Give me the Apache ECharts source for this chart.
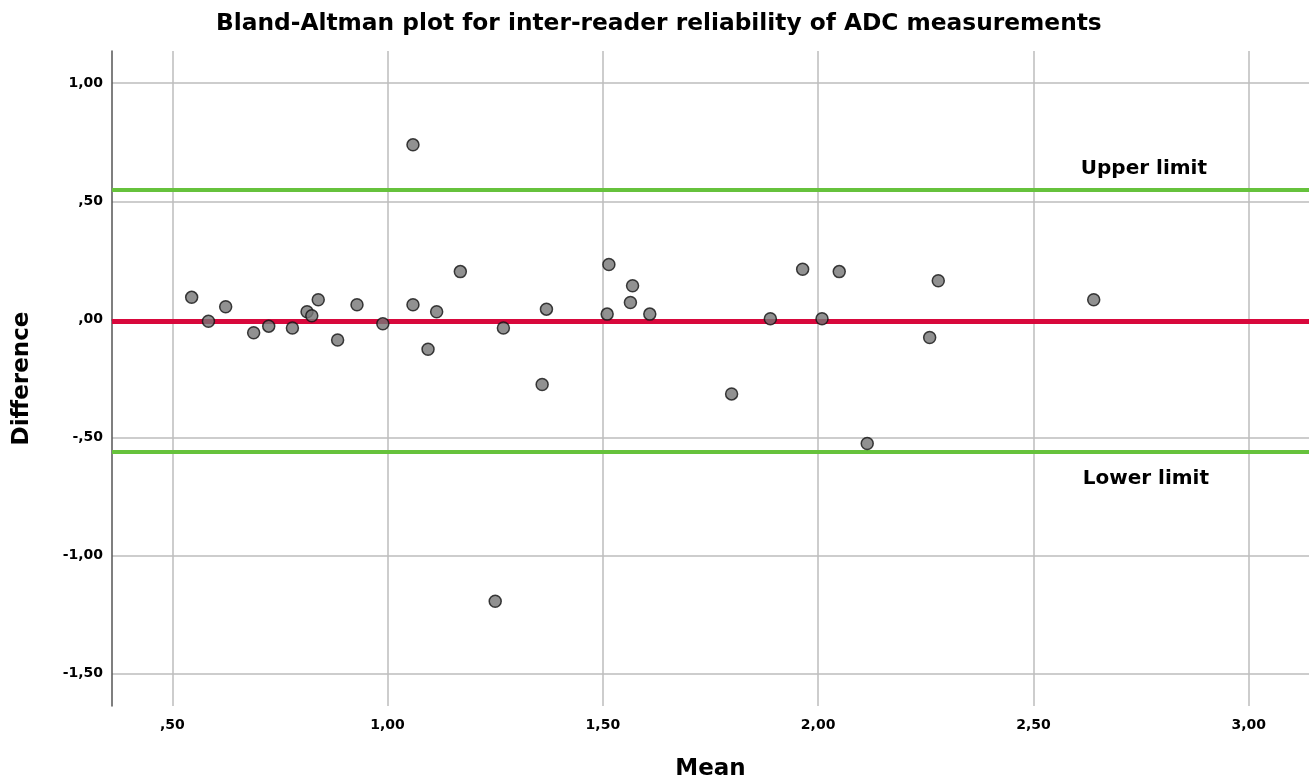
<!DOCTYPE html>
<html>
<head>
<meta charset="utf-8">
<script src="https://cdn.jsdelivr.net/npm/echarts@6/dist/echarts.min.js"></script>
<style>
  html, body { margin: 0; padding: 0; background: #fff; }
  #chart { width: 1309px; height: 779px; }
</style>
</head>
<body>
<div id="chart"></div>
<script>
// mean of the two readers (x) and their difference (y)
var meanValues = [0.545, 0.584, 0.624, 0.689, 0.724, 0.779, 0.813, 0.824, 0.839, 0.884,
                  0.929, 0.989, 1.059, 1.059, 1.094, 1.114, 1.169, 1.269, 1.369, 1.359,
                  1.250, 1.514, 1.510, 1.569, 1.564, 1.609, 1.799, 1.889, 1.964, 2.009,
                  2.049, 2.114, 2.259, 2.279, 2.640];
var diffValues = [0.093, -0.008, 0.053, -0.057, -0.029, -0.037, 0.032, 0.015, 0.083, -0.088,
                  0.062, -0.019, 0.739, 0.062, -0.127, 0.032, 0.202, -0.037, 0.043, -0.276,
                  -1.194, 0.232, 0.022, 0.142, 0.071, 0.022, -0.316, 0.002, 0.212, 0.002,
                  0.202, -0.526, -0.077, 0.163, 0.083];

var meanDiff = -0.006;
var upperLimit = 0.549;
var lowerLimit = -0.561;

var xTicks = [0.5, 1.0, 1.5, 2.0, 2.5, 3.0];
var yTicks = [-1.5, -1.0, -0.5, 0, 0.5, 1.0];

function fmt(v) {
  var s = Math.abs(v).toFixed(2).replace('.', ',');
  if (s.charAt(0) === '0') s = s.substring(1);
  return (v < 0 ? '-' : '') + s;
}

var points = [];
for (var i = 0; i < meanValues.length; i++) {
  points.push([meanValues[i], diffValues[i]]);
}

var font = 'DejaVu Sans, Liberation Sans, sans-serif';
var myChart = echarts.init(document.getElementById('chart'));

var option = {
  backgroundColor: '#fff',
  animation: false,
  title: {
    text: 'Bland-Altman plot for inter-reader reliability of ADC measurements',
    left: 211,
    top: 7,
    textStyle: { fontFamily: font, fontSize: 23.3, fontWeight: 'bold', color: '#000' }
  },
  grid: { left: 112, right: 0, top: 51, bottom: 73, containLabel: false, outerBoundsMode: 'none' },
  xAxis: {
    type: 'value',
    min: 0.36,
    max: 3.14,
    name: 'Mean',
    nameLocation: 'middle',
    nameGap: 52,
    nameTextStyle: { fontFamily: font, fontSize: 23, fontWeight: 'bold', color: '#000' },
    axisLine: { show: true, lineStyle: { color: '#555', width: 1.5 } },
    axisTick: { show: false, customValues: xTicks },
    axisLabel: {
      customValues: xTicks,
      formatter: fmt,
      margin: 12,
      fontFamily: font, fontSize: 14, fontWeight: 'bold', color: '#000'
    },
    splitLine: { show: true, lineStyle: { color: '#bcbcbc', width: 1.5 } }
  },
  yAxis: {
    type: 'value',
    min: -1.638,
    max: 1.1365,
    name: 'Difference',
    nameLocation: 'middle',
    nameGap: 78,
    nameTextStyle: { fontFamily: font, fontSize: 23, fontWeight: 'bold', color: '#000' },
    axisLine: { show: true, lineStyle: { color: '#555', width: 1.5 } },
    axisTick: { show: false, customValues: yTicks },
    axisLabel: {
      customValues: yTicks,
      formatter: fmt,
      margin: 9,
      fontFamily: font, fontSize: 14, fontWeight: 'bold', color: '#000'
    },
    splitLine: { show: true, lineStyle: { color: '#bcbcbc', width: 1.5 } }
  },
  series: [
    {
      type: 'scatter',
      data: points,
      symbolSize: 12,
      z: 5,
      itemStyle: { color: '#767676', borderColor: '#111', borderWidth: 1.5 },
      markLine: {
        silent: true,
        symbol: 'none',
        z: 3,
        data: [
          {
            yAxis: upperLimit,
            lineStyle: { color: '#66c23c', width: 4, type: 'solid' },
            label: {
              show: true, formatter: 'Upper limit', position: 'insideEndTop',
              distance: 11, padding: [0, 91, 0, 0],
              fontFamily: font, fontSize: 20, fontWeight: 'bold', color: '#000'
            }
          },
          {
            yAxis: lowerLimit,
            lineStyle: { color: '#66c23c', width: 4, type: 'solid' },
            label: {
              show: true, formatter: 'Lower limit', position: 'insideEndBottom',
              distance: 17, padding: [0, 83, 0, 0],
              fontFamily: font, fontSize: 20, fontWeight: 'bold', color: '#000'
            }
          },
          {
            yAxis: meanDiff,
            lineStyle: { color: '#d8083c', width: 5, type: 'solid' },
            label: { show: false }
          }
        ]
      }
    }
  ]
};

option && myChart.setOption(option);
</script>
</body>
</html>
